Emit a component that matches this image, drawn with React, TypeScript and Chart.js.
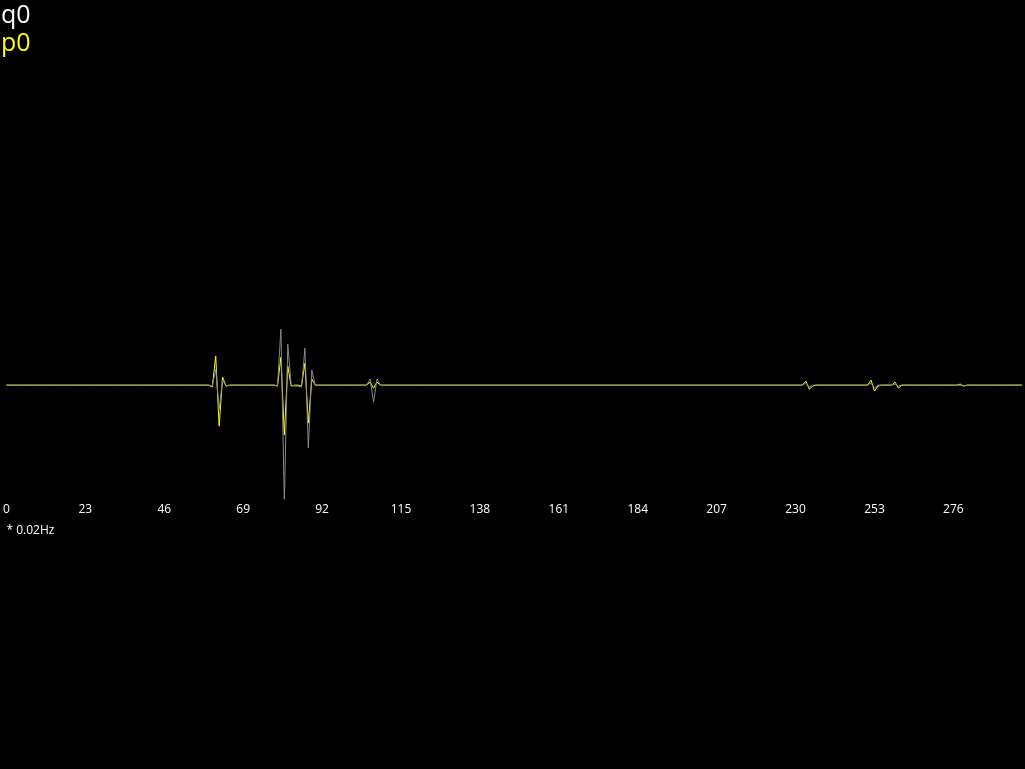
import React, { useEffect, useRef } from "react";
import { Chart, registerables } from "chart.js";

Chart.register(...registerables);

// categories: sample index, displayed in units of 0.02 Hz
const POINT_COUNT = 297;
const categories: string[] = Array.from({ length: POINT_COUNT }, (_, i) => String(i));
const TICK_STEP = 23;
const axisTitle = "* 0.02Hz";

const seriesNames = ["q0", "p0"];

// q0 (gray)
const q0: number[] = [
  0, 0, 0, 0, 0, 0, 0, 0, 0, 0, 0, 0, 0, 0, 0, 0, 0, 0, 0, 0,
  0, 0, 0, 0, 0, 0, 0, 0, 0, 0, 0, 0, 0, 0, 0, 0, 0, 0, 0, 0,
  0, 0, 0, 0, 0, 0, 0, 0, 0, 0, 0, 0, 0, 0, 0, 0, 0, 0, 0, 0,
  -1, 16, -24, 5, -1, 0, 0, 0, 0, 0, 0, 0, 0, 0, 0, 0, 0, 0, 0, -1,
  56, -118, 41, 0, -1, -1, -2, 37, -63, 15, 0, 0, 0, 0, 0, 0, 0, 0, 0, 0,
  0, 0, 0, 0, 0, 0, 6, -17, 6, 0, 0, 0, 0, 0, 0, 0, 0, 0, 0, 0,
  0, 0, 0, 0, 0, 0, 0, 0, 0, 0, 0, 0, 0, 0, 0, 0, 0, 0, 0, 0,
  0, 0, 0, 0, 0, 0, 0, 0, 0, 0, 0, 0, 0, 0, 0, 0, 0, 0, 0, 0,
  0, 0, 0, 0, 0, 0, 0, 0, 0, 0, 0, 0, 0, 0, 0, 0, 0, 0, 0, 0,
  0, 0, 0, 0, 0, 0, 0, 0, 0, 0, 0, 0, 0, 0, 0, 0, 0, 0, 0, 0,
  0, 0, 0, 0, 0, 0, 0, 0, 0, 0, 0, 0, 0, 0, 0, 0, 0, 0, 0, 0,
  0, 0, 0, 0, 0, 0, 0, 0, 0, 0, 0, 0, 0, 2, -2, 0, 0, 0, 0, 0,
  0, 0, 0, 0, 0, 0, 0, 0, 0, 0, 0, 0, 2, -3, 0, 0, 0, 0, 0, 1,
  -1, 0, 0, 0, 0, 0, 0, 0, 0, 0, 0, 0, 0, 0, 0, 0, 0, 0, 0, -1,
  0, 0, 0, 0, 0, 0, 0, 0, 0, 0, 0, 0, 0, 0, 0, 0, 0,
];

// p0 (yellow)
const p0: number[] = [
  0, 0, 0, 0, 0, 0, 0, 0, 0, 0, 0, 0, 0, 0, 0, 0, 0, 0, 0, 0,
  0, 0, 0, 0, 0, 0, 0, 0, 0, 0, 0, 0, 0, 0, 0, 0, 0, 0, 0, 0,
  0, 0, 0, 0, 0, 0, 0, 0, 0, 0, 0, 0, 0, 0, 0, 0, 0, 0, 0, 0,
  -2, 29, -41, 8, -1, 0, 0, 0, 0, 0, 0, 0, 0, 0, 0, 0, 0, 0, 0, -1,
  28, -50, 19, -1, 0, 0, -1, 22, -38, 6, 0, 0, 0, 0, 0, 0, 0, 0, 0, 0,
  0, 0, 0, 0, 0, 0, 3, -3, 3, 0, 0, 0, 0, 0, 0, 0, 0, 0, 0, 0,
  0, 0, 0, 0, 0, 0, 0, 0, 0, 0, 0, 0, 0, 0, 0, 0, 0, 0, 0, 0,
  0, 0, 0, 0, 0, 0, 0, 0, 0, 0, 0, 0, 0, 0, 0, 0, 0, 0, 0, 0,
  0, 0, 0, 0, 0, 0, 0, 0, 0, 0, 0, 0, 0, 0, 0, 0, 0, 0, 0, 0,
  0, 0, 0, 0, 0, 0, 0, 0, 0, 0, 0, 0, 0, 0, 0, 0, 0, 0, 0, 0,
  0, 0, 0, 0, 0, 0, 0, 0, 0, 0, 0, 0, 0, 0, 0, 0, 0, 0, 0, 0,
  0, 0, 0, 0, 0, 0, 0, 0, 0, 0, 0, 0, 0, 4, -4, -1, 0, 0, 0, 0,
  0, 0, 0, 0, 0, 0, 0, 0, 0, 0, 0, 0, 5, -6, -1, 0, 0, 0, 0, 3,
  -3, 0, 0, 0, 0, 0, 0, 0, 0, 0, 0, 0, 0, 0, 0, 0, 0, 0, 1, -1,
  0, 0, 0, 0, 0, 0, 0, 0, 0, 0, 0, 0, 0, 0, 0, 0, 0,
];

// where the zero line sits on the page (one value unit = one pixel)
const BASELINE_Y = 385;

const GRAY = "#888888";
const YELLOW = "#ffff00";
const FONT = "'Open Sans', 'Noto Sans', sans-serif";

export default function App() {
  const canvasRef = useRef<HTMLCanvasElement | null>(null);

  useEffect(() => {
    document.body.style.margin = "0";
    document.body.style.background = "#000";
    const canvas = canvasRef.current;
    if (!canvas) return;
    const chart = new Chart(canvas, {
      type: "line",
      data: {
        labels: categories,
        datasets: [
          {
            label: seriesNames[0],
            data: q0,
            borderColor: GRAY,
            borderWidth: 1,
            pointRadius: 0,
            tension: 0,
            order: 0,
          },
          {
            label: seriesNames[1],
            data: p0,
            borderColor: YELLOW,
            borderWidth: 1,
            pointRadius: 0,
            tension: 0,
            order: 1,
          },
        ],
      },
      options: {
        animation: false,
        responsive: true,
        maintainAspectRatio: false,
        layout: { padding: 0 },
        plugins: {
          legend: { display: false },
          tooltip: { enabled: false },
        },
        scales: {
          x: {
            type: "category",
            offset: false,
            grid: { display: false, drawTicks: false },
            border: { display: false },
            ticks: {
              autoSkip: false,
              maxRotation: 0,
              minRotation: 0,
              color: "#ffffff",
              font: { family: FONT, size: 12 },
              padding: 3,
              callback: function (this: any, value: any, index: number) {
                return index % TICK_STEP === 0 ? categories[index] : "";
              },
            },
            title: {
              display: true,
              text: axisTitle,
              align: "start",
              color: "#ffffff",
              font: { family: FONT, size: 12 },
              padding: { top: 4, bottom: 4 },
            },
          },
          y: {
            display: false,
            min: -115,
            max: 385,
          },
        },
      },
    });
    const ca = chart.chartArea;
    const yOpts: any = (chart.options.scales as any).y;
    yOpts.max = BASELINE_Y - ca.top;
    yOpts.min = -(ca.bottom - BASELINE_Y);
    chart.update();
    return () => chart.destroy();
  }, []);

  return (
    <div
      style={{
        position: "fixed",
        left: 0,
        top: 0,
        width: 1025,
        height: 769,
        background: "#000",
        overflow: "hidden",
      }}
    >
      <div style={{ position: "absolute", left: 0, top: 0, width: 1025, height: 542 }}>
        <canvas ref={canvasRef} />
      </div>
      <div
        style={{
          position: "absolute",
          left: 1,
          top: -1,
          fontFamily: FONT,
          fontSize: 25,
          lineHeight: "28px",
        }}
      >
        <div style={{ color: "#ffffff" }}>{seriesNames[0]}</div>
        <div style={{ color: YELLOW }}>{seriesNames[1]}</div>
      </div>
    </div>
  );
}
